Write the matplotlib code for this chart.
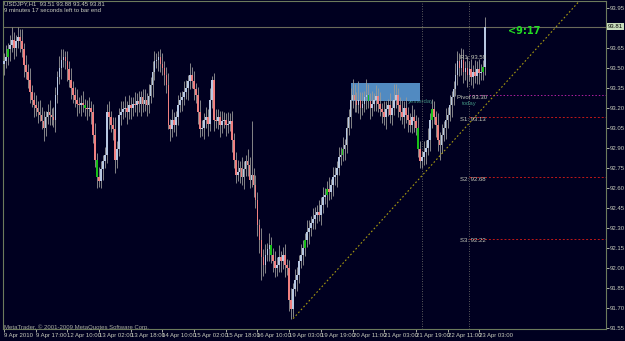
import matplotlib
matplotlib.use("Agg")
import matplotlib.pyplot as plt
from matplotlib.patches import Rectangle

# USDJPY H1, hourly closes (one value per bar)
closes = [
    93.55, 93.58, 93.64, 93.67, 93.71, 93.65, 93.70, 93.73, 93.70, 93.64,
    93.52, 93.47, 93.41, 93.32, 93.26, 93.22, 93.20, 93.17, 93.15, 93.10,
    93.05, 93.13, 93.17, 93.15, 93.13, 93.11, 93.30, 93.43, 93.50, 93.56,
    93.58, 93.55, 93.49, 93.41, 93.35, 93.30, 93.26, 93.23, 93.22, 93.24,
    93.22, 93.20, 93.19, 93.20, 93.17, 93.00, 92.81, 92.68, 92.65, 92.74,
    92.80, 92.85, 93.17, 93.13, 93.07, 93.04, 92.81, 92.89, 93.15, 93.17,
    93.19, 93.20, 93.17, 93.22, 93.20, 93.23, 93.22, 93.25, 93.23, 93.28,
    93.23, 93.26, 93.22, 93.29, 93.37, 93.47, 93.55, 93.56, 93.58, 93.53,
    93.50, 93.45, 93.37, 93.07, 93.04, 93.11, 93.07, 93.13, 93.22, 93.26,
    93.28, 93.32, 93.35, 93.40, 93.45, 93.40, 93.34, 93.30, 93.17, 93.04,
    93.05, 93.11, 93.13, 93.08, 93.26, 93.41, 93.11, 93.10, 93.13, 93.07,
    93.10, 93.11, 93.07, 93.08, 93.10, 92.96, 92.81, 92.70, 92.72, 92.75,
    92.68, 92.74, 92.80, 92.77, 92.66, 92.70, 92.62, 92.51, 92.32, 92.21,
    92.08, 92.02, 92.10, 92.14, 92.17, 92.10, 92.05, 92.00, 92.02, 92.08,
    92.05, 92.10, 92.02, 92.00, 91.76, 91.69, 91.84, 91.91, 91.95, 92.05,
    92.10, 92.15, 92.21, 92.27, 92.30, 92.34, 92.37, 92.40, 92.42, 92.40,
    92.47, 92.53, 92.55, 92.59, 92.57, 92.62, 92.68, 92.70, 92.75, 92.83,
    92.85, 92.89, 92.92, 93.05, 93.13, 93.26, 93.30, 93.26, 93.22, 93.26,
    93.20, 93.23, 93.28, 93.30, 93.25, 93.20, 93.23, 93.26, 93.29, 93.23,
    93.19, 93.17, 93.13, 93.19, 93.22, 93.15, 93.20, 93.26, 93.30, 93.22,
    93.17, 93.13, 93.20, 93.15, 93.11, 93.07, 93.13, 93.10, 93.05, 92.89,
    92.80, 92.83, 92.87, 92.90, 92.96, 93.11, 93.19, 93.13, 93.07, 92.96,
    92.92, 93.00, 93.05, 93.11, 93.15, 93.22, 93.28, 93.34, 93.45, 93.55,
    93.50, 93.56, 93.47, 93.50, 93.45, 93.49, 93.43, 93.47, 93.44, 93.49,
    93.46, 93.47, 93.51, 93.81,
]
first_open = 93.53

# wick lengths above / below the body, in pips
wick_up = [
    6, 9, 5, 8, 10, 6, 5, 8, 6, 9,    5, 8, 6, 9, 5, 6, 8, 5, 9, 6,
    8, 5, 6, 9, 5, 8, 6, 5, 9, 8,     6, 5, 8, 6, 9, 5, 6, 8, 5, 6,
    9, 5, 6, 8, 5, 6, 9, 5, 8, 6,     5, 6, 6, 8, 5, 6, 9, 6, 5, 8,
    6, 9, 5, 8, 6, 5, 9, 6, 8, 5,     6, 8, 5, 9, 6, 8, 8, 5, 5, 6,
    8, 5, 6, 9, 5, 8, 6, 5, 8, 6,     5, 8, 6, 5, 9, 6, 8, 5, 6, 9,
    6, 5, 8, 6, 9, 3, 5, 8, 6, 5,     8, 6, 5, 9, 6, 8, 5, 6, 9, 5,
    8, 6, 5, 9, 6, 40, 5, 8, 6, 5,    9, 6, 8, 5, 9, 6, 5, 8, 6, 9,
    5, 6, 8, 5, 6, 9, 5, 8, 6, 5,     8, 6, 5, 9, 6, 5, 8, 6, 5, 9,
    6, 8, 5, 6, 9, 5, 8, 6, 5, 8,     6, 9, 5, 8, 6, 9, 12, 8, 6, 14,
    6, 9, 5, 12, 8, 6, 10, 5, 8, 6,   9, 5, 8, 6, 5, 9, 6, 12, 8, 5,
    6, 9, 5, 8, 6, 5, 9, 6, 5, 8,     6, 5, 8, 6, 9, 5, 8, 6, 5, 9,
    6, 8, 5, 9, 6, 8, 5, 6, 9, 8,     6, 9, 8, 5, 9, 6, 8, 5, 9, 6,
    8, 6, 5, 7,
]
wick_dn = [
    8, 5, 6, 9, 5, 8, 6, 5, 8, 6,     9, 5, 6, 8, 5, 9, 6, 8, 5, 6,
    10, 6, 5, 8, 6, 5, 9, 6, 5, 8,    5, 6, 9, 5, 8, 6, 5, 9, 6, 8,
    5, 6, 8, 5, 9, 6, 5, 8, 4, 5,     8, 5, 6, 9, 5, 8, 10, 6, 5, 8,
    5, 6, 9, 5, 8, 6, 5, 8, 6, 9,     6, 5, 8, 6, 5, 9, 6, 5, 8, 6,
    5, 8, 6, 3, 9, 6, 5, 8, 6, 5,     8, 6, 5, 9, 6, 5, 8, 6, 9, 6,
    5, 8, 6, 9, 5, 6, 8, 5, 6, 9,     6, 5, 8, 6, 5, 9, 6, 6, 5, 8,
    6, 9, 5, 8, 6, 5, 9, 6, 8, 10,    17, 8, 6, 5, 9, 6, 8, 7, 6, 5,
    8, 6, 9, 5, 8, 7, 6, 5, 8, 6,     5, 8, 6, 5, 9, 6, 5, 8, 6, 5,
    8, 6, 5, 9, 6, 5, 8, 6, 9, 5,     6, 5, 8, 6, 5, 8, 6, 9, 5, 6,
    8, 5, 6, 9, 5, 8, 6, 5, 8, 6,     5, 8, 6, 9, 5, 6, 8, 5, 6, 9,
    6, 5, 8, 6, 9, 5, 6, 8, 5, 6,     5, 5, 6, 9, 5, 8, 6, 5, 9, 8,
    11, 6, 5, 8, 6, 5, 9, 6, 5, 8,    6, 5, 8, 6, 9, 5, 6, 8, 5, 6,
    8, 5, 6, 6,
]
green_bars = [2, 41, 47, 135, 152, 163, 171, 184, 209, 216, 242]

time_labels = ["9 Apr 2010", "9 Apr 17:00", "12 Apr 10:00", "13 Apr 02:00",
               "13 Apr 18:00", "14 Apr 10:00", "15 Apr 02:00", "15 Apr 18:00",
               "16 Apr 10:00", "19 Apr 03:00", "19 Apr 19:00", "20 Apr 11:00",
               "21 Apr 03:00", "21 Apr 19:00", "22 Apr 11:00", "23 Apr 03:00"]
price_ticks = [91.55, 91.70, 91.85, 92.00, 92.15, 92.30, 92.45, 92.60, 92.75,
               92.90, 93.05, 93.20, 93.35, 93.50, 93.65, 93.95]

pivot = 93.30
supports = [("S1", 93.13), ("S2", 92.68), ("S3", 92.22)]
r1 = 93.59
bid = 93.81
day_lines = [211, 235]
yest_bars = (175.3, 210.1)
yest_range = (93.25, 93.39)
trend_bars = [146, 291]
trend_prices = [91.62, 94.01]

plt.rcParams['font.family'] = ['Liberation Sans Narrow', 'Liberation Sans', 'DejaVu Sans']

bg = "#000020"
fg = "#c8ccbc"
axc = "#6c7a5c"
fs = 4.3

fig = plt.figure(figsize=(6.25, 3.41), dpi=100)
fig.patch.set_facecolor(bg)
ax = fig.add_axes([3 / 625, 12 / 341, 603 / 625, 328 / 341])
ax.set_facecolor(bg)

opens = [first_open] + closes[:-1]
n = len(closes)
for i in range(n):
    o, c = opens[i], closes[i]
    hi = max(o, c) + wick_up[i] / 100
    lo = min(o, c) - wick_dn[i] / 100
    ax.vlines(i, lo, hi, color="#9a9a98", lw=0.6, zorder=3)
    if i in green_bars:
        col = "#18c018"
    elif c >= o:
        col = "#b8c8e2"
    else:
        col = "#f08080"
    h = max(abs(c - o), 0.004)
    ax.bar(i, h, bottom=min(o, c), width=0.85, color=col, lw=0, zorder=4)

# yesterday's range box
ax.add_patch(Rectangle((yest_bars[0], yest_range[0]), yest_bars[1] - yest_bars[0],
                       yest_range[1] - yest_range[0], facecolor="#5b9ad4",
                       edgecolor="none", alpha=0.9, zorder=2))
ax.text(204, 93.245, "yesterday", color="#3f8f80", fontsize=fs,
        va="center", ha="left", zorder=1)

for d in day_lines:
    ax.axvline(d, color="#7a7a70", ls=(0, (1, 2)), lw=0.6, zorder=1)

ax.axhline(bid, color="#6a6a5a", lw=0.8, zorder=1)
ax.plot(trend_bars, trend_prices, color="#a89a10", ls=(0, (1.5, 2)), lw=0.8, zorder=5)

xmax = 304
ax.hlines(pivot, 235, xmax, color="#b020a0", ls=(0, (1.5, 2)), lw=0.7, zorder=1)
for name, lvl in supports:
    ax.hlines(lvl, 235, xmax, color="#c01818", ls=(0, (2, 2)), lw=0.7, zorder=1)
    ax.text(230.3, lvl - 0.015, f"{name}: {lvl:.2f}", color=fg, fontsize=fs,
            va="center", ha="left", zorder=6)
ax.text(229, 93.28, f"Pivot {pivot:.2f}", color=fg, fontsize=fs,
        va="center", ha="left", zorder=6)
ax.text(231.3, 93.235, "today", color="#3f8f80", fontsize=fs,
        va="center", ha="left", zorder=6)
ax.text(230.3, 93.575, f"R1: {r1:.2f}", color=fg, fontsize=fs,
        va="center", ha="left", zorder=6)
ax.text(254.5, 93.775, "<9:17", color="#22dd22", fontsize=7, fontweight="bold",
        family="DejaVu Sans", va="center", ha="left", zorder=6)

ax.set_xlim(-0.5, xmax)
ax.set_ylim(91.5425, 94.0025)

ax.set_xticks([16 * k for k in range(len(time_labels))])
ax.set_xticklabels(time_labels, ha="left")
ax.yaxis.tick_right()
ax.set_yticks(price_ticks)
ax.set_yticklabels([f"{p:.2f}" for p in price_ticks])
ax.tick_params(colors=fg, labelsize=fs, length=2, width=0.6, pad=1)
for s in ax.spines.values():
    s.set_color(axc)
    s.set_linewidth(0.8)

ax.annotate(f"{bid:.2f}", xy=(1.003, bid), xycoords=("axes fraction", "data"),
            fontsize=fs, color="#000000", va="center", ha="left",
            bbox=dict(boxstyle="square,pad=0.2", facecolor="#c8dcbc", edgecolor="none"),
            annotation_clip=False)

fig.text(4 / 625, 1 - 4 / 341, "USDJPY,H1  93.51 93.88 93.45 93.81", color=fg,
         fontsize=fs, va="center", ha="left")
fig.text(4 / 625, 1 - 11 / 341, "9 minutes 17 seconds left to bar end", color=fg,
         fontsize=fs, va="center", ha="left")
fig.text(4 / 625, 1 - 327 / 341, "MetaTrader, \u00a9 2001-2009 MetaQuotes Software Corp.",
         color="#a8aca0", fontsize=fs, va="center", ha="left")

fig.savefig("out.png", dpi=100, facecolor=bg)
